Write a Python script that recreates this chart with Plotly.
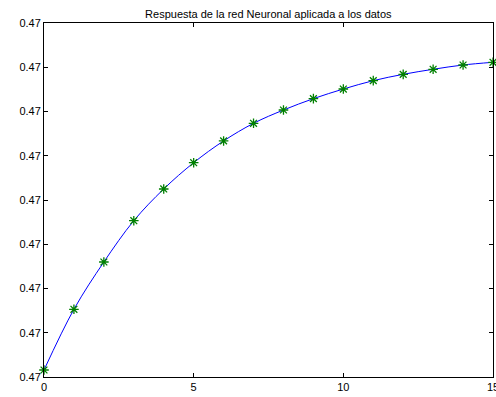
import plotly.graph_objects as go

x_vals = list(range(16))
# network response (offsets in units of 1e-5 above 0.47)
y_offsets = [0.158, 1.530, 2.599, 3.532, 4.249, 4.843, 5.335, 5.733,
             6.034, 6.290, 6.508, 6.697, 6.840, 6.954, 7.051, 7.112]
y_vals = [0.47 + v * 1e-5 for v in y_offsets]

y_ticks = [0.47 + k * 1e-5 for k in range(9)]
y_tick_labels = ["0.47"] * 9
x_ticks = [0, 5, 10, 15]
x_tick_labels = ["0", "5", "10", "15"]

title_text = "Respuesta de la red Neuronal aplicada a los datos"

fig = go.Figure()
fig.add_trace(go.Scatter(x=x_vals, y=y_vals, mode="lines",
                         line=dict(color="#0000ff", width=1, shape="spline"),
                         hoverinfo="skip", showlegend=False))
fig.add_trace(go.Scatter(x=x_vals, y=y_vals, mode="markers",
                         marker=dict(symbol="asterisk-open", size=8, color="#008000",
                                     line=dict(color="#008000", width=1.3)),
                         showlegend=False, cliponaxis=False))

axis_common = dict(showgrid=False, zeroline=False, showline=True,
                   linecolor="black", linewidth=1, mirror="allticks",
                   ticks="inside", ticklen=4, tickcolor="black",
                   ticklabeloverflow="allow",
                   tickfont=dict(family="Liberation Sans, Arial", size=11, color="black"))

fig.update_layout(
    width=496, height=397,
    margin=dict(l=44, r=3, t=23, b=20),
    paper_bgcolor="white", plot_bgcolor="white",
    title=dict(text=title_text, x=0.541, xanchor="center", y=0.965, yanchor="middle",
               font=dict(family="Liberation Sans, Arial", size=11, color="black")),
    xaxis=dict(range=[0, 15], tickvals=x_ticks, ticktext=x_tick_labels,
               automargin=False, **axis_common),
    yaxis=dict(range=[0.47, 0.47 + 8e-5], tickvals=y_ticks, ticktext=y_tick_labels,
               automargin=False, **axis_common),
)

fig.write_html("out.html")
